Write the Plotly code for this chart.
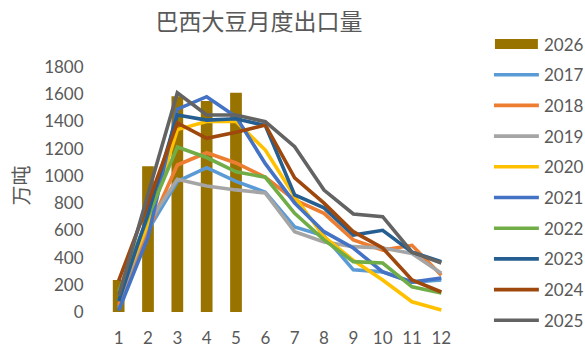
import plotly.graph_objects as go

# Months on the category axis
months = list(range(1, 13))

# 2026 monthly exports so far (万吨), drawn as bars
exports_2026 = [235, 1070, 1585, 1550, 1610]

# Monthly exports by year (万吨), drawn as lines
years = ["2017", "2018", "2019", "2020", "2021", "2022", "2023", "2024", "2025"]
exports_2017 = [30, 600, 960, 1060, 960, 880, 625, 560, 310, 295, 220, 235]
exports_2018 = [50, 600, 1080, 1170, 1095, 990, 823, 725, 530, 455, 490, 270]
exports_2019 = [80, 650, 975, 926, 897, 874, 590, 515, 480, 470, 430, 285]
exports_2020 = [120, 650, 1340, 1400, 1400, 1190, 848, 553, 380, 235, 75, 15]
exports_2021 = [10, 550, 1490, 1582, 1435, 1090, 800, 590, 470, 295, 220, 250]
exports_2022 = [150, 700, 1212, 1135, 1030, 990, 725, 530, 370, 360, 185, 140]
exports_2023 = [80, 720, 1447, 1410, 1420, 1370, 860, 765, 565, 600, 440, 370]
exports_2024 = [230, 800, 1389, 1276, 1320, 1374, 985, 800, 590, 470, 235, 147]
exports_2025 = [120, 870, 1610, 1447, 1447, 1398, 1215, 896, 720, 700, 440, 360]

series = [exports_2017, exports_2018, exports_2019, exports_2020, exports_2021,
          exports_2022, exports_2023, exports_2024, exports_2025]
colors = ["#5B9BD5", "#ED7D31", "#A5A5A5", "#FFC000", "#4472C4",
          "#70AD47", "#255E91", "#9E480E", "#636363"]
bar_color = "#997300"
text_color = "#595959"

W, H = 585, 347
L, R, T, B = 103.5, 456.0, 67.0, 312.0  # plot area edges in px

fig = go.Figure()
fig.add_trace(go.Bar(x=months[:len(exports_2026)], y=exports_2026, name="2026",
                     marker=dict(color=bar_color, line=dict(width=0)),
                     width=0.4, showlegend=False))
for name, vals, c in zip(years, series, colors):
    fig.add_trace(go.Scatter(x=months, y=vals, name=name, mode="lines",
                             line=dict(color=c, width=3.6), showlegend=False))


def px_x(px):
    return (px - L) / (R - L)


def px_y(py):
    return (B - py) / (B - T)


# Legend on the right, drawn as shapes and labels
shapes = []
annotations = []
legend_items = [("2026", bar_color, "bar")] + [(y, c, "line") for y, c in zip(years, colors)]
for i, (name, c, kind) in enumerate(legend_items):
    cy = 44 + i * 30.7
    if kind == "bar":
        shapes.append(dict(type="rect", xref="paper", yref="paper",
                           x0=px_x(495), x1=px_x(538), y0=px_y(cy + 5), y1=px_y(cy - 5),
                           fillcolor=c, line=dict(width=0)))
    else:
        shapes.append(dict(type="line", xref="paper", yref="paper",
                           x0=px_x(494), x1=px_x(539), y0=px_y(cy), y1=px_y(cy),
                           line=dict(color=c, width=3.6)))
    annotations.append(dict(text=name, xref="paper", yref="paper",
                            x=px_x(542), y=px_y(cy), xanchor="left", yanchor="middle",
                            showarrow=False,
                            font=dict(family="Lato, Noto Sans", size=17, color=text_color)))

# Vertical axis title
annotations.append(dict(text="万吨", xref="paper", yref="paper",
                        x=px_x(19), y=px_y(186), xanchor="center", yanchor="middle",
                        textangle=-90, showarrow=False,
                        font=dict(family="Noto Sans CJK SC", size=20, color=text_color)))

fig.update_layout(
    width=W, height=H,
    margin=dict(l=L, r=W - R, t=T, b=H - B, pad=0, autoexpand=False),
    paper_bgcolor="white", plot_bgcolor="white",
    title=dict(text="巴西大豆月度出口量", x=259 / W, xref="container", xanchor="center",
               y=1 - 22 / H, yref="container", yanchor="middle",
               font=dict(family="Noto Sans CJK SC", size=23, color=text_color)),
    bargap=0.6,
    shapes=shapes, annotations=annotations,
    xaxis=dict(range=[0.5, 12.5], tickvals=months, ticktext=[str(m) for m in months],
               showgrid=False, zeroline=False, showline=False, automargin=False,
               ticks="outside", ticklen=11, tickcolor="rgba(0,0,0,0)",
               tickfont=dict(family="Lato, Noto Sans", size=17, color=text_color)),
    yaxis=dict(range=[0, 1800], tickvals=list(range(0, 1801, 200)),
               showgrid=False, zeroline=False, showline=False, automargin=False,
               ticks="outside", ticklen=16, tickcolor="rgba(0,0,0,0)",
               tickfont=dict(family="Lato, Noto Sans", size=17, color=text_color)),
)

fig.write_html("out.html")
